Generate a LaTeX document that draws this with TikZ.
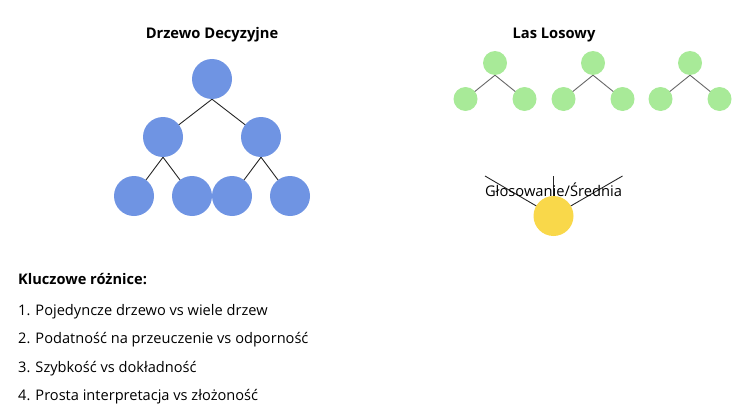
\documentclass[tikz,border=0pt]{standalone}
\usepackage{fontspec}
\setmainfont{Open Sans}
\usetikzlibrary{backgrounds}
\definecolor{dtblue}{HTML}{6F94E3}
\definecolor{rfgreen}{HTML}{A8EA98}
\definecolor{voteyel}{HTML}{F9D84A}
\tikzset{
  bignode/.style={circle,fill=dtblue,minimum size=40pt,inner sep=0pt},
  smallnode/.style={circle,fill=rfgreen,minimum size=24pt,inner sep=0pt},
  votenode/.style={circle,fill=voteyel,minimum size=40pt,inner sep=0pt},
  dtedge/.style={draw=black!85,line width=0.9pt},
  rfedge/.style={draw=black!60,line width=0.9pt},
  voteedge/.style={draw=black!85,line width=0.9pt},
  titletext/.style={font=\fontsize{14.7}{17}\selectfont\bfseries,anchor=base,inner sep=0pt},
  bodytext/.style={font=\fontsize{14.6}{17}\selectfont,anchor=base west,inner sep=0pt},
  headtext/.style={font=\fontsize{14.6}{17}\selectfont\bfseries,anchor=base west,inner sep=0pt},
}
\begin{document}
\begin{tikzpicture}[x=1pt,y=-1pt]
\useasboundingbox (0,0) rectangle (741,412);
% Decision tree
\node[titletext] (dttitle) at (212,39) {Drzewo Decyzyjne};
\node[bignode] (r) at (212,79) {};
\node[bignode] (a) at (163,137) {};
\node[bignode] (b) at (261,137) {};
\node[bignode] (a1) at (134,196) {};
\node[bignode] (a2) at (192,196) {};
\node[bignode] (b1) at (232,196) {};
\node[bignode] (b2) at (290,196) {};
\begin{scope}[on background layer]
\draw[dtedge] (r.south) -- (a.center);
\draw[dtedge] (r.south) -- (b.center);
\draw[dtedge] (a.south) -- (a1.center);
\draw[dtedge] (a.south) -- (a2.center);
\draw[dtedge] (b.south) -- (b1.center);
\draw[dtedge] (b.south) -- (b2.center);
\end{scope}
% Random forest
\node[titletext] (rftitle) at (554,39) {Las Losowy};
\foreach \i/\x in {1/495,2/593,3/690}{
  \node[smallnode] (t\i) at (\x,63) {};
  \node[smallnode] (t\i l) at (\x-29.5,99) {};
  \node[smallnode] (t\i r) at (\x+29.5,99) {};
  \begin{scope}[on background layer]
  \draw[rfedge] (t\i.south) -- (t\i l.center);
  \draw[rfedge] (t\i.south) -- (t\i r.center);
  \end{scope}
}
% Voting
\node[votenode] (v) at (553.5,216) {};
\coordinate (vl) at (485,176);
\coordinate (vm) at (553.5,176);
\coordinate (vr) at (622.5,176);
\begin{scope}[on background layer]
\draw[voteedge] (vl) -- (v.center);
\draw[voteedge] (vm) -- (v.center);
\draw[voteedge] (vr) -- (v.center);
\end{scope}
\node[font=\fontsize{14.7}{17}\selectfont,anchor=base,inner sep=0pt] (vlabel) at (553.5,196) {Głosowanie/Średnia};
% Key differences
\node[headtext] (kh) at (18,284) {Kluczowe różnice:};
\node[bodytext] (k1) at (18,315) {1. Pojedyncze drzewo vs wiele drzew};
\node[bodytext] (k2) at (18,343.5) {2. Podatność na przeuczenie vs odporność};
\node[bodytext] (k3) at (18,372) {3. Szybkość vs dokładność};
\node[bodytext] (k4) at (18,400.5) {4. Prosta interpretacja vs złożoność};
\end{tikzpicture}
\end{document}
